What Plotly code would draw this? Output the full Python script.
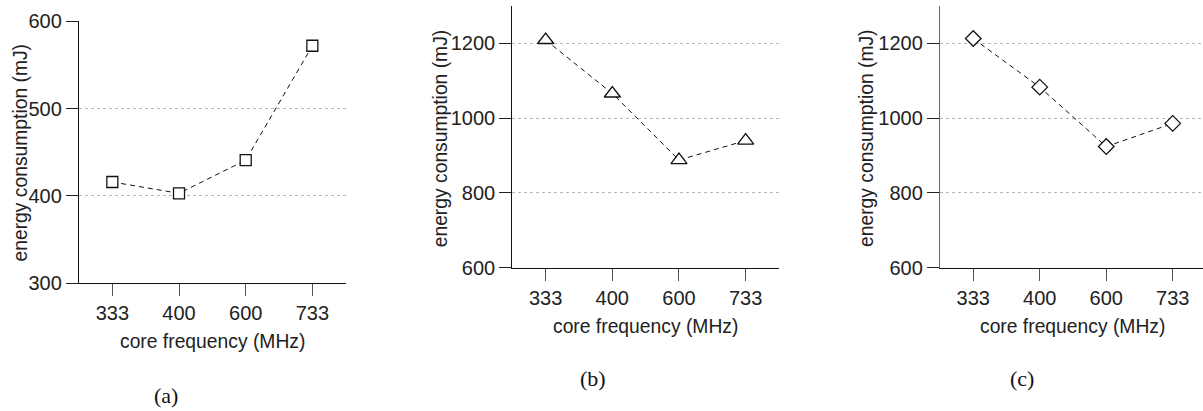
import plotly.graph_objects as go

W, H = 1203, 411

freqs = ["333", "400", "600", "733"]
energy_a = [416, 403, 441, 572]
energy_b = [1209, 1066, 888, 940]
energy_c = [1213, 1083, 924, 986]

ytick_a = [300, 400, 500, 600]
ytick_bc = [600, 800, 1000, 1200]
captions = ["(a)", "(b)", "(c)"]
xtitle = "core frequency (MHz)"
ytitle = "energy consumption (mJ)"

FONT = "Liberation Sans, Arial, sans-serif"
FS = 20
FS_TITLE = 19.3

def px_x(p):
    return p / W

def px_y(p):
    return 1 - p / H

fig = go.Figure()

panels = [
    dict(y=energy_a, sym="square", size=11, xa="x", ya="y"),
    dict(y=energy_b, sym="triangle-up", size=14, xa="x2", ya="y2"),
    dict(y=energy_c, sym="diamond", size=12, xa="x3", ya="y3"),
]
for p in panels:
    fig.add_trace(go.Scatter(
        x=freqs, y=p["y"], mode="lines+markers", xaxis=p["xa"], yaxis=p["ya"],
        line=dict(color="#111", width=1, dash="5px,4px"),
        marker=dict(symbol=p["sym"], size=p["size"], color="white",
                    line=dict(color="#111", width=1.3)),
        showlegend=False, hoverinfo="skip"))

def xaxis(dom, rng):
    return dict(domain=dom, type="category", categoryorder="array", categoryarray=freqs,
                range=rng, showline=True, linecolor="#111", linewidth=1.3,
                ticks="outside", ticklen=12, tickwidth=1.3, tickcolor="#555",
                showgrid=False, zeroline=False, automargin=False,
                tickfont=dict(family=FONT, size=FS, color="#222"), fixedrange=True)

def yaxis(dom, rng, tv, anchor, lc="#111"):
    return dict(domain=dom, range=rng, tickvals=tv, anchor=anchor,
                showline=True, linecolor=lc, linewidth=1.3,
                ticks="outside", ticklen=12, tickwidth=1.3, tickcolor="#222",
                showgrid=True, gridcolor="#b5b5b5", gridwidth=1, griddash="dot",
                zeroline=False, automargin=False,
                tickfont=dict(family=FONT, size=FS, color="#222"),
                fixedrange=True)

dom_xa = [px_x(79), px_x(345.7)]
dom_xb = [px_x(512.3), px_x(779)]
dom_xc = [px_x(940), 1.0]
dom_ya = [px_y(283.3), px_y(21.3)]
dom_ybc = [px_y(267.7), px_y(6)]

fig.update_layout(
    template="none",
    width=W, height=H, margin=dict(l=0, r=0, t=0, b=0, autoexpand=False),
    paper_bgcolor="white", plot_bgcolor="white",
    xaxis=dict(**xaxis(dom_xa, [-0.5, 3.5]), anchor="y"),
    yaxis=yaxis(dom_ya, [300, 600], ytick_a, "x"),
    xaxis2=dict(**xaxis(dom_xb, [-0.5, 3.5]), anchor="y2"),
    yaxis2=yaxis(dom_ybc, [600, 1300], ytick_bc, "x2"),
    xaxis3=dict(**xaxis(dom_xc, [-0.5, 3.455]), anchor="y3"),
    yaxis3=yaxis(dom_ybc, [600, 1300], ytick_bc, "x3", lc="#666"),
)

ann = []
ytitle_pos = [(20, 152.5), (440, 138.3), (866.7, 138.3)]
xtitle_pos = [(212, 341.7), (645.8, 326.7), (1072.5, 326.7)]
cap_pos = [(166, 395), (592.7, 378), (1021.7, 378)]
for i in range(3):
    ann.append(dict(text=ytitle, x=px_x(ytitle_pos[i][0]), y=px_y(ytitle_pos[i][1]),
                    xref="paper", yref="paper", showarrow=False, textangle=-90,
                    xanchor="center", yanchor="middle",
                    font=dict(family=FONT, size=FS_TITLE, color="#222")))
    ann.append(dict(text=xtitle, x=px_x(xtitle_pos[i][0]), y=px_y(xtitle_pos[i][1]),
                    xref="paper", yref="paper", showarrow=False,
                    xanchor="center", yanchor="middle",
                    font=dict(family=FONT, size=FS_TITLE, color="#222")))
    ann.append(dict(text=captions[i], x=px_x(cap_pos[i][0]), y=px_y(cap_pos[i][1]),
                    xref="paper", yref="paper", showarrow=False,
                    xanchor="center", yanchor="middle",
                    font=dict(family="Liberation Serif, Times New Roman, serif", size=22, color="#111")))
fig.update_layout(annotations=ann)

fig.write_html("out.html")
